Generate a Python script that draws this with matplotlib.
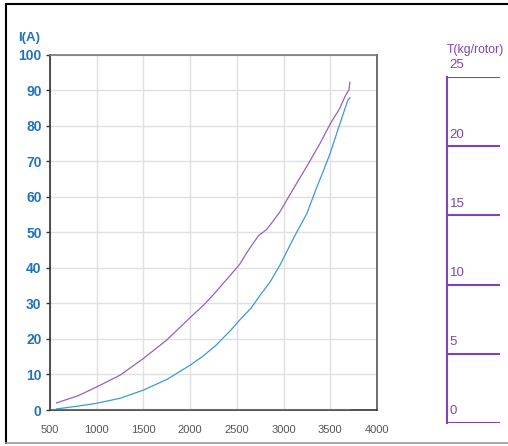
import numpy as np
import matplotlib
matplotlib.use('Agg')
from matplotlib import pyplot as plt
from matplotlib.lines import Line2D

plt.rcParams['font.family'] = ['Liberation Sans', 'DejaVu Sans']

# current vs rpm
rpm_a = [570, 800, 1000, 1250, 1500, 1750, 2000, 2140, 2250, 2430, 2530, 2620,
         2730, 2820, 2960, 3100, 3250, 3390, 3500, 3600, 3660, 3700, 3710]
current_a = [2.0, 4.0, 6.5, 9.8, 14.5, 19.7, 26.0, 29.4, 32.5, 37.9, 41.0, 44.8,
             49.0, 50.8, 55.7, 62.0, 68.6, 75.0, 80.5, 84.8, 88.3, 90.1, 92.2]

rpm_b = [570, 800, 1000, 1250, 1500, 1750, 2000, 2140, 2280, 2440, 2530, 2650,
         2750, 2860, 2960, 3120, 3250, 3350, 3425, 3500, 3600, 3690, 3710]
current_b = [0.3, 1.1, 1.9, 3.3, 5.6, 8.6, 12.6, 15.2, 18.3, 22.6, 25.3, 28.6,
             32.3, 36.2, 40.7, 49.0, 55.3, 62.3, 67.2, 72.3, 80.3, 87.3, 87.8]

rpm_t = [500, 3710]
thrust = [0, 0]

x_ticks = [500, 1000, 1500, 2000, 2500, 3000, 3500, 4000]
y_ticks = [0, 10, 20, 30, 40, 50, 60, 70, 80, 90, 100]
t_ticks = [0, 5, 10, 15, 20, 25]

purple = '#9a5fc0'
blue = '#3a9ad8'
green = '#4f8a3c'
label_blue = '#1f74c0'
axis_purple = '#7d45b3'

fig = plt.figure(figsize=(5.08, 4.46), dpi=100)

# outer frame
fig.add_artist(Line2D([6 / 508, 6 / 508], [3 / 446, 442 / 446], color='black', lw=1.5))
fig.add_artist(Line2D([6 / 508, 1.0], [442 / 446, 442 / 446], color='black', lw=1.5))
fig.add_artist(Line2D([6 / 508, 1.0], [3 / 446, 3 / 446], color='#999999', lw=1.2))

ax = fig.add_axes([50 / 508, 36 / 446, 327 / 508, 355.5 / 446])
ax.plot(rpm_a, current_a, color=purple, lw=0.9)
ax.plot(rpm_b, current_b, color=blue, lw=0.9)
ax.plot(rpm_t, thrust, color=green, lw=1.5, zorder=5)

ax.set_xlim(500, 4000)
ax.set_ylim(0, 100)
ax.set_xticks(x_ticks)
ax.set_yticks(y_ticks)
ax.grid(True, color='#e0e0e0', lw=1)
ax.set_axisbelow(True)
ax.tick_params(axis='x', length=0, pad=11, labelsize=8, labelcolor='#555555')
ax.tick_params(axis='y', length=3, width=1, color='#333333', pad=3, labelsize=10,
               labelcolor=label_blue)
for lab in ax.get_yticklabels():
    lab.set_fontweight('bold')
ax.spines['left'].set_color('#333333')
ax.spines['bottom'].set_color('#333333')
ax.spines['top'].set_color('#777777')
ax.spines['right'].set_color('#555555')
for s in ax.spines.values():
    s.set_linewidth(1.2)
ax.text(-0.098, 1.03, 'I(A)', transform=ax.transAxes, color=label_blue,
        fontsize=9.5, fontweight='bold', ha='left', va='bottom')

# thrust axis on the right
ax2 = fig.add_axes([447 / 508, 23 / 446, 53 / 508, 346 / 446])
ax2.set_ylim(0, 25)
ax2.set_xlim(0, 1)
ax2.set_yticks(t_ticks)
ax2.set_xticks([])
ax2.tick_params(axis='y', length=0, labelleft=False)
ax2.grid(True, axis='y', color=axis_purple, lw=1.5)
for side in ['top', 'right', 'bottom']:
    ax2.spines[side].set_visible(False)
ax2.spines['left'].set_color(axis_purple)
ax2.spines['left'].set_linewidth(1.5)
ax2.patch.set_alpha(0)
for t in t_ticks:
    ax2.text(0.05, t + 0.4, str(t), color=axis_purple, fontsize=9.5,
             ha='left', va='bottom')
ax2.text(0.0, 1.06, 'T(kg/rotor)', transform=ax2.transAxes, color=axis_purple,
         fontsize=8.8, ha='left', va='bottom')

fig.savefig('out.png', dpi=100)
